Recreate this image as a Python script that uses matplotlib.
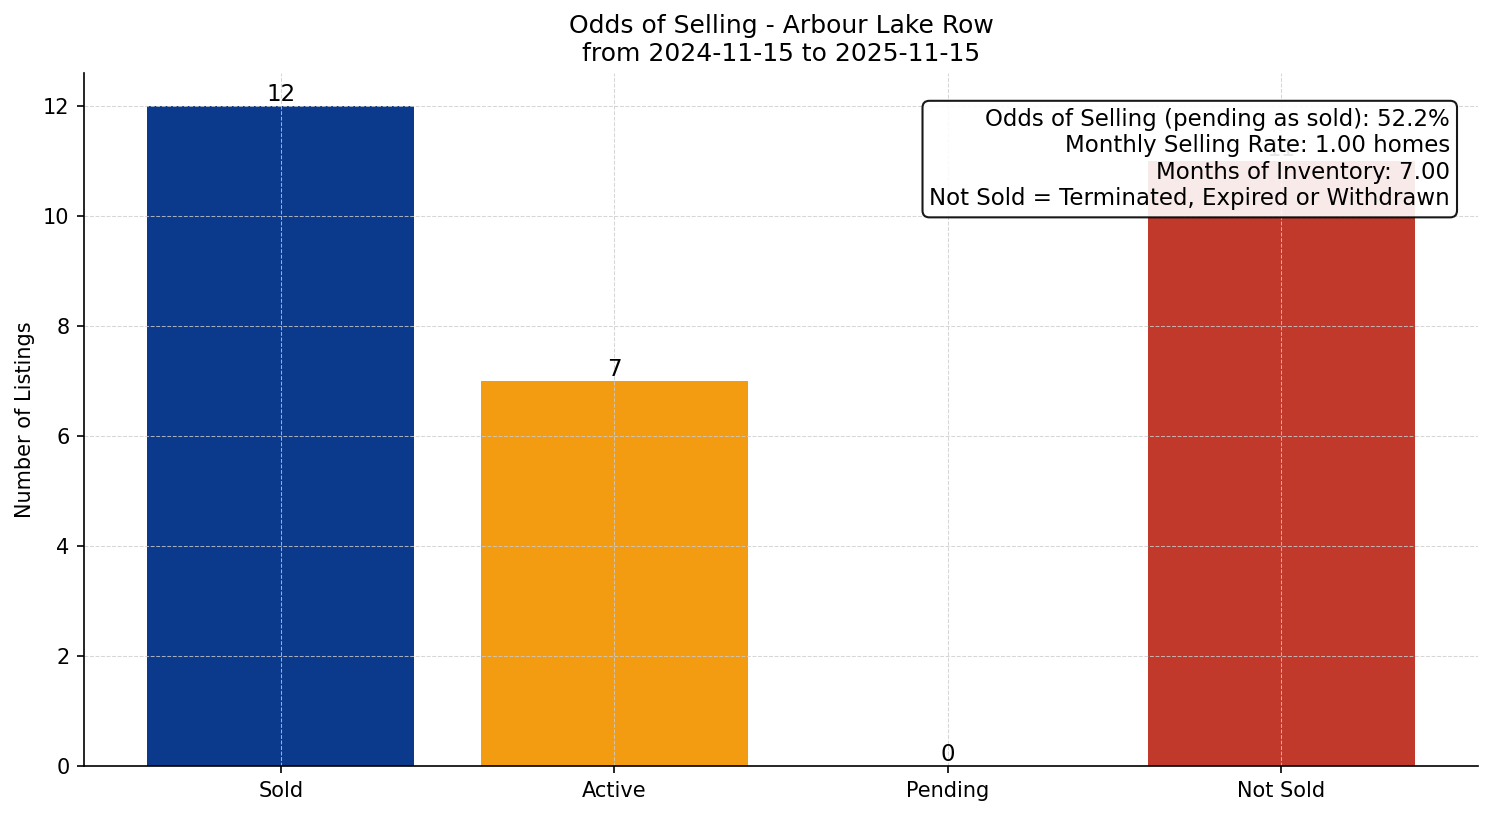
import matplotlib
matplotlib.use("Agg")
import matplotlib.pyplot as plt

# data
categories = ["Sold", "Active", "Pending", "Not Sold"]
counts = [12, 7, 0, 11]
bar_colors = ["#0b3a8c", "#f39c12", "#27ae60", "#c0392b"]

area = "Arbour Lake Row"
date_from = "2024-11-15"
date_to = "2025-11-15"
odds_pct = 52.2
monthly_rate = 1.00
months_inventory = 7.00

fig = plt.figure(figsize=(9.96, 5.44), dpi=150)
ax = fig.add_axes([0.0562, 0.0613, 0.9331, 0.8492])

bars = ax.bar(categories, counts, color=bar_colors, width=0.8)
ax.bar_label(bars, labels=[str(c) for c in counts], fontsize=11)

ax.set_ylabel("Number of Listings", fontsize=10)
ax.set_title(f"Odds of Selling - {area}\nfrom {date_from} to {date_to}", fontsize=12)
ax.tick_params(labelsize=10)
ax.grid(True, linestyle="--", linewidth=0.5, color="#cccccc", alpha=0.8)
ax.spines["top"].set_visible(False)
ax.spines["right"].set_visible(False)

info = (f"Odds of Selling (pending as sold): {odds_pct:.1f}%\n"
        f"Monthly Selling Rate: {monthly_rate:.2f} homes\n"
        f"Months of Inventory: {months_inventory:.2f}\n"
        "Not Sold = Terminated, Expired or Withdrawn")
ax.text(0.98, 0.95, info, transform=ax.transAxes, ha="right", va="top",
        fontsize=11, zorder=5,
        bbox=dict(boxstyle="round", facecolor="white", edgecolor="black", alpha=0.9))

fig.savefig("out.png", dpi=150)
